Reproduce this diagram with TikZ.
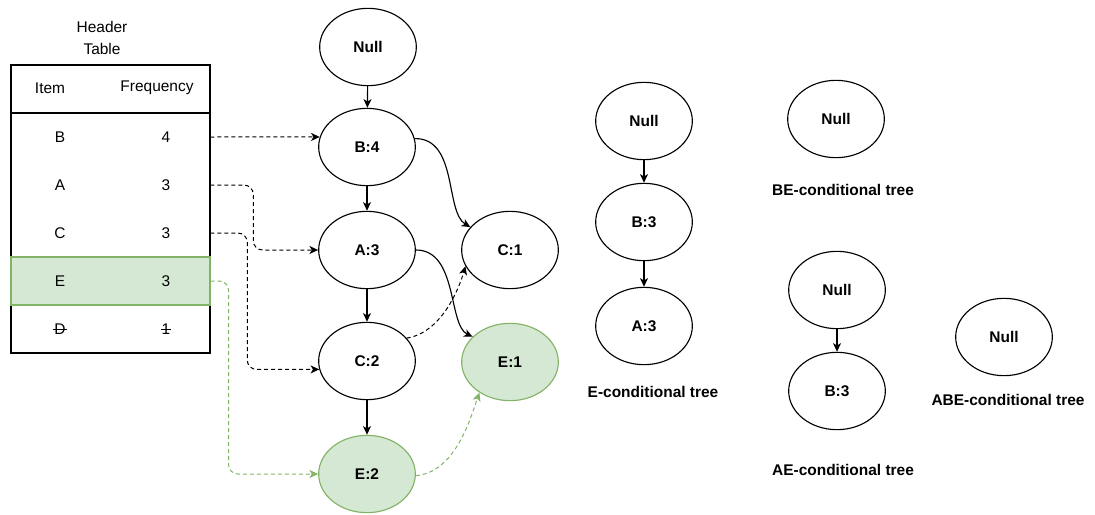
\documentclass[tikz,border=0pt]{standalone}
\usepackage{fontspec}
\setmainfont{Liberation Sans}
\usetikzlibrary{shapes.geometric,arrows.meta}

\definecolor{leafgreen}{HTML}{D5E8D4}
\definecolor{leafline}{HTML}{82B366}

\tikzset{
  treenode/.style={ellipse,draw=black,line width=0.85pt,fill=white,
    minimum width=72.5pt,minimum height=58pt,inner sep=0pt,
    font=\fontsize{11.6}{13}\selectfont\bfseries},
  greennode/.style={treenode,draw=leafline,fill=leafgreen},
  treelabel/.style={inner sep=0pt,font=\fontsize{11.6}{13}\selectfont\bfseries},
  celltext/.style={inner sep=0.5pt,font=\fontsize{11.6}{13}\selectfont},
  rowbox/.style={rectangle,minimum width=149.25pt,minimum height=36pt,inner sep=0pt},
  link/.style={line width=0.85pt,-{Stealth[length=6.5pt,width=6pt,inset=1.8pt]}},
  pointer/.style={link,line width=0.75pt,dash pattern=on 3pt off 2.25pt},
  greenpointer/.style={pointer,draw=leafline,-{Stealth[length=6.5pt,width=6pt,inset=1.8pt,fill=leafline]}},
}

\begin{document}
\begin{tikzpicture}[x=0.75pt,y=-0.75pt]
\useasboundingbox (0,0) rectangle (1095,514);

% ---- header table ----
\node[celltext,align=center,font=\fontsize{11.6}{16.5}\selectfont] (title) at (102,38) {Header\\Table};
\node[rectangle,draw,line width=1pt,minimum width=149.25pt,minimum height=216pt,inner sep=0pt] (tbl) at (110.5,209) {};
\draw[line width=1pt] (11,113) -- (210,113);
\node[rowbox] (rowB) at (110.5,137) {};
\node[rowbox] (rowA) at (110.5,185) {};
\node[rowbox] (rowC) at (110.5,233) {};
\node[rowbox,draw=leafline,line width=0.85pt,fill=leafgreen] (rowE) at (110.5,281) {};
\node[rowbox] (rowD) at (110.5,329) {};

\node[celltext] (hitem) at (50,88) {Item};
\node[celltext] (hfreq) at (157,88) {Frequency};
\node[celltext] (iB) at (60,137) {B};
\node[celltext] (fB) at (166,137) {4};
\node[celltext] (iA) at (60,185) {A};
\node[celltext] (fA) at (166,185) {3};
\node[celltext] (iC) at (60,233) {C};
\node[celltext] (fC) at (166,233) {3};
\node[celltext] (iE) at (60,281) {E};
\node[celltext] (fE) at (166,281) {3};
\node[celltext] (iD) at (60,329) {D};
\node[celltext] (fD) at (166,329) {1};
% pruned item struck through
\draw[line width=0.6pt] (iD.west) -- (iD.east);
\draw[line width=0.6pt] (fD.west) -- (fD.east);

% ---- FP-tree ----
\node[treenode] (null) at (368,47) {Null};
\node[treenode] (b4) at (367,147) {B:4};
\node[treenode] (a3) at (367,250) {A:3};
\node[treenode] (c2) at (367,361) {C:2};
\node[greennode] (e2) at (367,474) {E:2};
\node[treenode] (c1) at (510,250) {C:1};
\node[greennode] (e1) at (510,362) {E:1};

\draw[link] (null) -- (b4);
\draw[link] (b4) -- (a3);
\draw[link] (a3) -- (c2);
\draw[link] (c2) -- (e2);
\draw[link] (b4.10) .. controls (458,138) and (445,212) .. (c1.150);
\draw[link] (a3.0) .. controls (458,250) and (448,325) .. (e1.146);

% node-links
\draw[pointer] (rowB.east) -- (b4.168);
\draw[pointer,rounded corners=7pt] (rowA.east) -- ++(43,0) |- (a3.west);
\draw[pointer,rounded corners=7pt] (rowC.east) -- ++(37,0) |- (c2.190);
\draw[pointer] (c2.30) .. controls (440,333) and (458,292) .. (c1.200);
\draw[greenpointer,rounded corners=7pt] (rowE.east) -- ++(18,0) |- (e2.west);
\draw[greenpointer] (e2.-2) .. controls (455,472) and (470,420) .. (e1.225);

% ---- E-conditional tree ----
\node[treenode] (en) at (644,121) {Null};
\node[treenode] (eb) at (644,222) {B:3};
\node[treenode] (ea) at (644,326) {A:3};
\draw[link] (en) -- (eb);
\draw[link] (eb) -- (ea);
\node[treelabel] (elab) at (653,392) {E-conditional tree};

% ---- BE-conditional tree ----
\node[treenode] (ben) at (836,119) {Null};
\node[treelabel] (belab) at (843,190) {BE-conditional tree};

% ---- AE-conditional tree ----
\node[treenode] (aen) at (837,290) {Null};
\node[treenode] (aeb) at (837,391) {B:3};
\draw[link] (aen) -- (aeb);
\node[treelabel] (aelab) at (843,470) {AE-conditional tree};

% ---- ABE-conditional tree ----
\node[treenode] (aben) at (1004,337) {Null};
\node[treelabel] (abelab) at (1008,400) {ABE-conditional tree};
\end{tikzpicture}
\end{document}
